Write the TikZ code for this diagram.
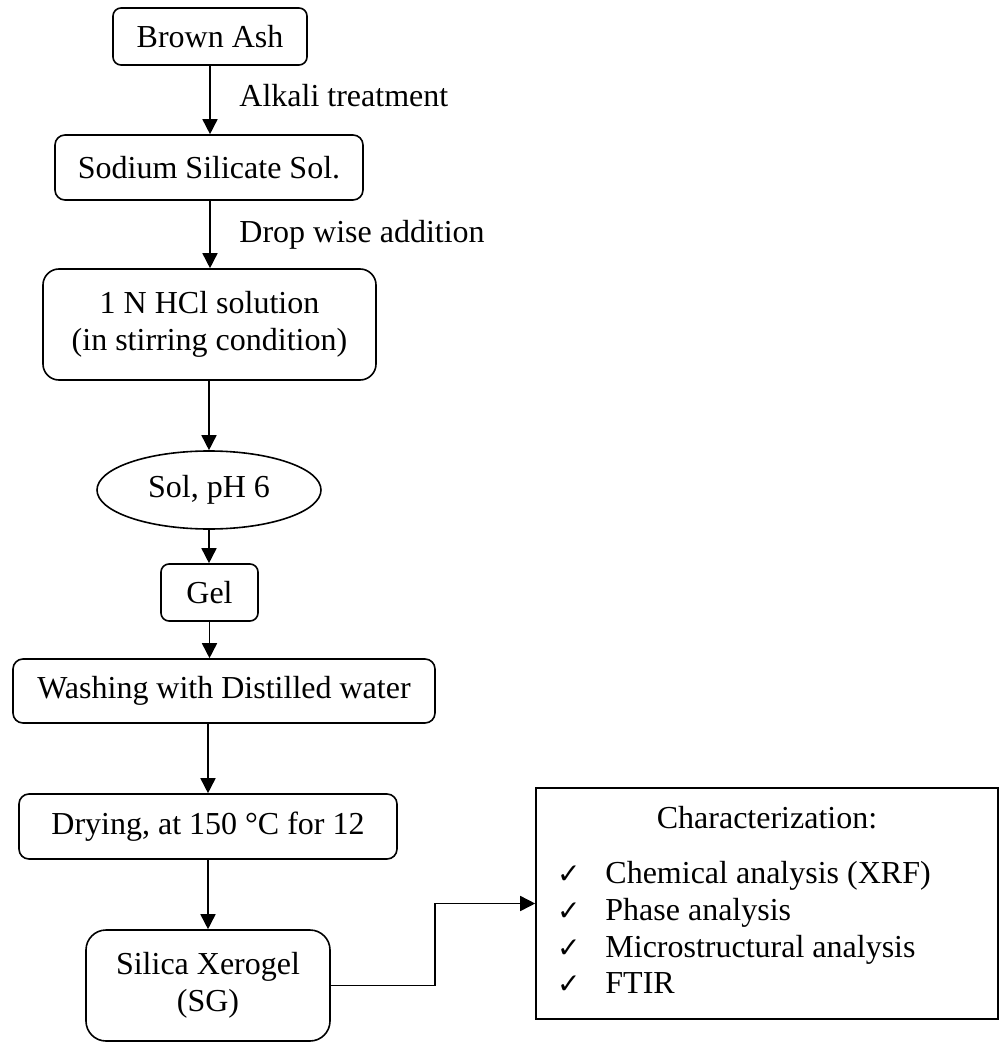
\documentclass[tikz,border=0pt]{standalone}
\usepackage{fontspec}
\setmainfont{Liberation Serif}
\newfontfamily\dejavu{DejaVu Sans}
\usetikzlibrary{arrows.meta,shapes.geometric}
\begin{document}
\begin{tikzpicture}[x=0.5pt,y=-0.5pt,
  every node/.style={font=\fontsize{16}{18.4}\selectfont},
  box/.style={draw,line width=0.8pt,inner sep=0pt,align=center},
  arr/.style={line width=0.8pt,-{Triangle[length=7.5pt,width=7.5pt]}},
  lbl/.style={anchor=base west,inner sep=0pt},
  item/.style={anchor=base west,inner sep=0pt}]
\useasboundingbox (0,0) rectangle (1000,1042);
\node[box,rounded corners=4pt,minimum width=97pt,minimum height=28.5pt] (ash) at (210,36.5) {Brown Ash};
\node[box,rounded corners=5pt,minimum width=154pt,minimum height=32.5pt] (sod) at (209,167.5) {Sodium Silicate Sol.};
\node[box,rounded corners=8pt,minimum width=166.5pt,minimum height=55.5pt] (hcl) at (209.5,324.5) {1 N HCl solution\\(in stirring condition)};
\node[box,ellipse,minimum width=112pt,minimum height=39pt] (sol) at (209,490) {Sol, pH 6};
\node[box,rounded corners=4pt,minimum width=48.5pt,minimum height=28.5pt] (gel) at (209.5,592.5) {Gel};
\node[box,rounded corners=5pt,minimum width=211pt,minimum height=32pt] (wash) at (224,691) {Washing with Distilled water};
\node[box,rounded corners=5pt,minimum width=189pt,minimum height=32.5pt] (dry) at (208,826.5) {Drying, at 150 °C for 12};
\node[box,rounded corners=10pt,minimum width=122pt,minimum height=55.5pt] (sil) at (208,985.5) {Silica Xerogel\\(SG)};
\node[box,minimum width=231pt,minimum height=115.5pt] (char) at (767,903.5) {};
\node[anchor=base,inner sep=0pt] (ctitle) at (767,828) {Characterization:};
\node[item] (c1) at (605,883) {Chemical analysis (XRF)};
\node[item] (c2) at (605,920) {Phase analysis};
\node[item] (c3) at (605,957) {Microstructural analysis};
\node[item] (c4) at (605,993) {FTIR};
\foreach \i in {1,...,4}{
  \node[anchor=base east,inner sep=0pt,font=\dejavu\fontsize{14}{16}\selectfont] at ([xshift=-12pt]c\i.base west) {✓};
}
\node[lbl] (l1) at (239,107) {Alkali treatment};
\node[lbl] (l2) at (239,243) {Drop wise addition};
\draw[arr] (ash.south) -- (ash.south |- sod.north);
\draw[arr] (sod.south -| ash) -- (ash |- hcl.north);
\draw[arr] (hcl.south -| sol) -- (sol.north);
\draw[arr] (sol.south) -- (sol.south |- gel.north);
\draw[arr] (gel.south) -- (gel.south |- wash.north);
\draw[arr] (wash.south -| dry) -- (dry.north);
\draw[arr] (dry.south) -- (sil.north);
\draw[arr] (sil.east) -- ++(104,0) |- (char.west);
\end{tikzpicture}
\end{document}
